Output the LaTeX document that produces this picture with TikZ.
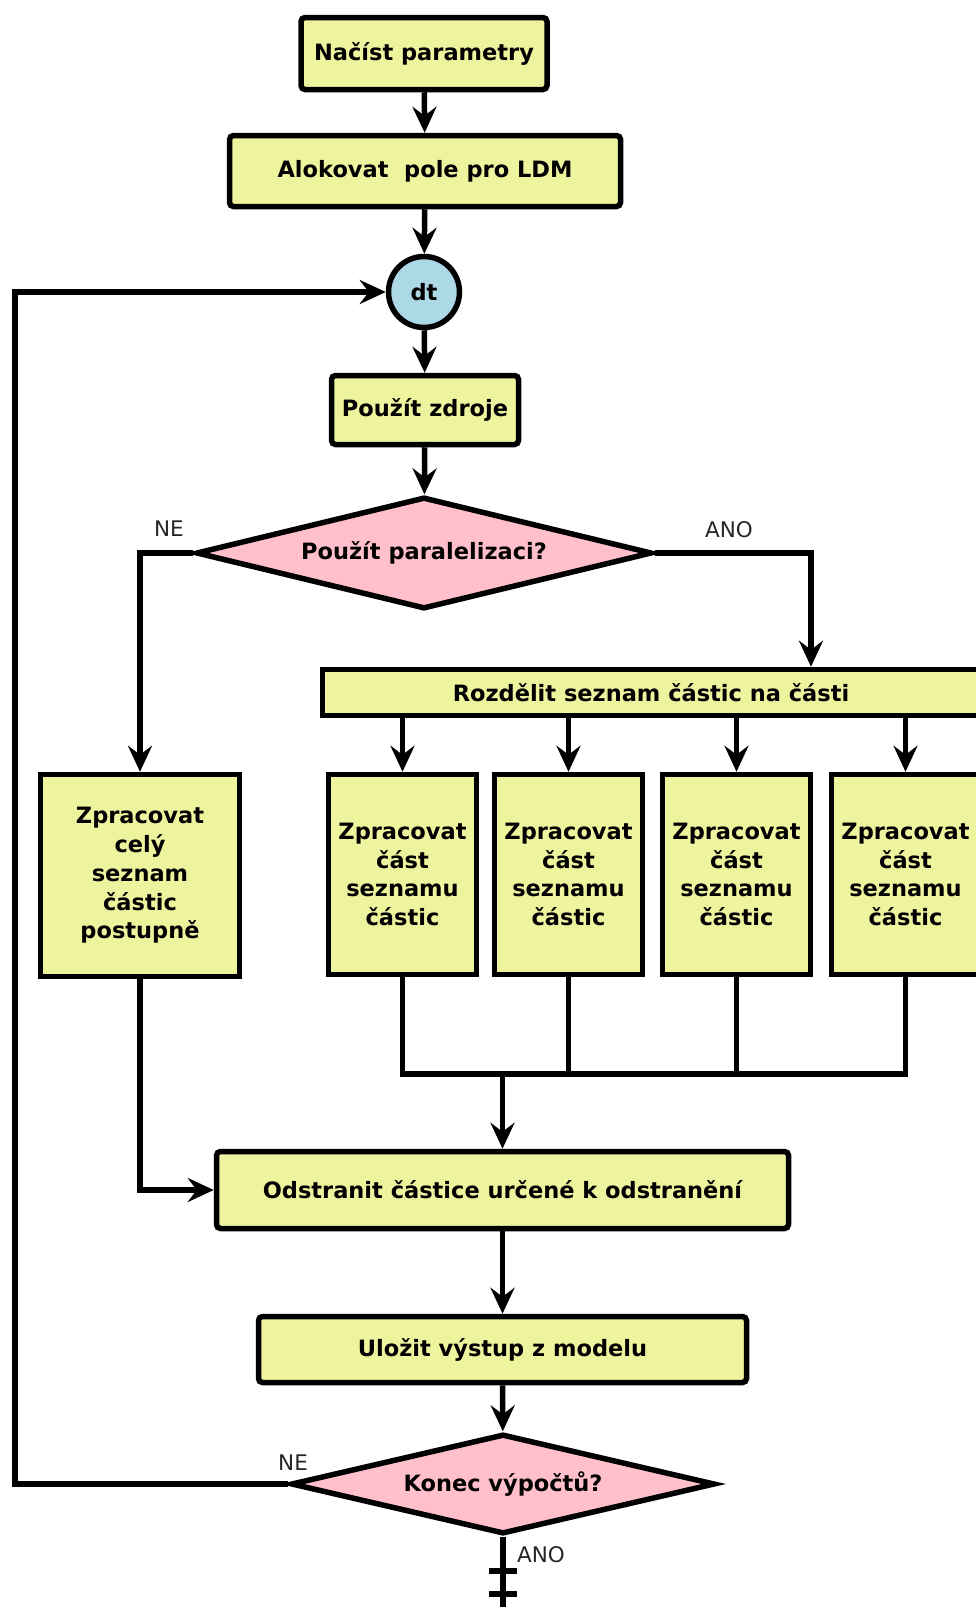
\documentclass[tikz,border=0pt]{standalone}
\usepackage{fontspec}
\setmainfont{DejaVu Sans}
\usetikzlibrary{shapes.geometric,arrows.meta}
\definecolor{boxfill}{RGB}{238,243,158}
\definecolor{decfill}{RGB}{255,192,203}
\definecolor{circfill}{RGB}{173,216,230}
\tikzset{
  conn/.style={line width=5.5pt,-{Stealth[length=26pt,width=24pt,inset=9pt]}},
  plain/.style={line width=5.5pt},
  boxtext/.style={font=\bfseries\fontsize{22.5}{28.7}\selectfont,align=center,text=black},
  pbox/.style={boxtext,draw,fill=boxfill,line width=5.5pt,rounded corners=4pt,inner sep=0pt},
  sbox/.style={boxtext,draw,fill=boxfill,line width=5.5pt,inner sep=0pt},
  dec/.style={boxtext,draw,fill=decfill,line width=5.5pt,diamond,aspect=4,inner sep=0pt},
  lbl/.style={font=\fontsize{21.5}{24}\selectfont,text=black!85},
}
\begin{document}
\begin{tikzpicture}[x=1pt,y=-1pt]
\useasboundingbox (0,0) rectangle (976,1607);
\node[pbox,minimum width=246pt,minimum height=72pt] (n1) at (424,53.5) {Načíst parametry};
\node[pbox,minimum width=391pt,minimum height=71pt] (n2) at (425,171) {Alokovat\ \ pole pro LDM};
\node[boxtext,draw,fill=circfill,circle,line width=5.5pt,minimum size=71pt,inner sep=0pt] (dt) at (424,292) {dt};
\node[pbox,minimum width=187pt,minimum height=69pt] (n3) at (425,410) {Použít zdroje};
\node[dec,minimum width=456pt,minimum height=112pt] (d1) at (424,553) {Použít paralelizaci?};
\node[sbox,minimum width=657pt,minimum height=46pt] (r) at (651,692.5) {Rozdělit seznam částic na části};
\node[sbox,minimum width=199pt,minimum height=202pt] (L) at (140,875.5) {Zpracovat\\celý\\seznam\\částic\\postupně};
\node[sbox,minimum width=148pt,minimum height=200pt] (p1) at (402.5,874.5) {Zpracovat\\část\\seznamu\\částic};
\node[sbox,minimum width=148pt,minimum height=200pt] (p2) at (568.5,874.5) {Zpracovat\\část\\seznamu\\částic};
\node[sbox,minimum width=148pt,minimum height=200pt] (p3) at (736.5,874.5) {Zpracovat\\část\\seznamu\\částic};
\node[sbox,minimum width=148pt,minimum height=200pt] (p4) at (905.5,874.5) {Zpracovat\\část\\seznamu\\částic};
\node[pbox,minimum width=572pt,minimum height=77pt] (O) at (502.5,1190) {Odstranit částice určené k odstranění};
\node[pbox,minimum width=488pt,minimum height=66pt] (U) at (502.5,1349.5) {Uložit výstup z modelu};
\node[dec,minimum width=424pt,minimum height=100pt] (d2) at (503,1484) {Konec výpočtů?};
\coordinate (rx) at (811,600);
\coordinate (j) at (502.5,1074);
\coordinate (lp) at (15,1000);
\coordinate (endp) at (503,1612);
\draw[conn] (n1) -- (n2);
\draw[conn] (n2) -- (dt);
\draw[conn] (dt) -- (n3);
\draw[conn] (n3) -- (d1);
\draw[conn] (d1.west) -| (L.north);
\draw[conn] (d1.east) -| (rx |- r.north);
\foreach \p in {p1,p2,p3,p4} {\draw[conn] (\p.north |- r.south) -- (\p.north);}
\draw[plain] (p1.south) |- (p4.south |- j) -- (p4.south);
\draw[plain] (p2.south) -- (p2.south |- j);
\draw[plain] (p3.south) -- (p3.south |- j);
\draw[conn] (j) -- (O.north);
\draw[conn] (L.south) |- (O.west);
\draw[conn] (O) -- (U);
\draw[conn] (U) -- (d2);
\draw[conn] (d2.west) -- (d2.west -| lp) -- (lp |- dt.west) -- (dt.west);
\draw[plain] (d2.south) -- (endp);
\draw[plain] ([xshift=-14pt,yshift=41pt]endp) -- ([xshift=14pt,yshift=41pt]endp);
\draw[plain] ([xshift=-14pt,yshift=18pt]endp) -- ([xshift=14pt,yshift=18pt]endp);
\node[lbl] (ne1) at (169,529) {NE};
\node[lbl] (ano1) at (729,530) {ANO};
\node[lbl] (ne2) at (293,1463) {NE};
\node[lbl] (ano2) at (541,1555) {ANO};
\end{tikzpicture}
\end{document}
